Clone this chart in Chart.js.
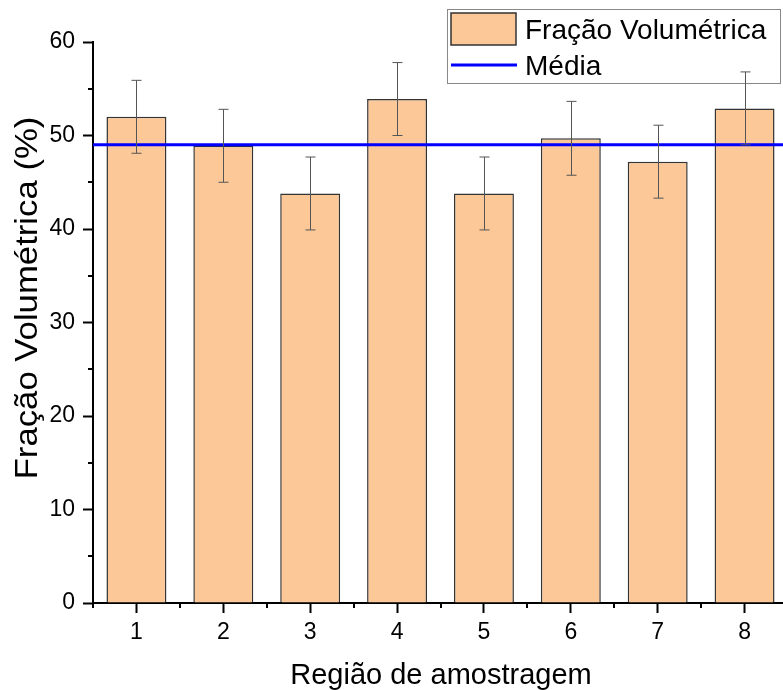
<!DOCTYPE html>
<html>
<head>
<meta charset="utf-8">
<script src="https://cdn.jsdelivr.net/npm/chart.js@4.4.1/dist/chart.umd.min.js"></script>
<style>
    html, body { margin: 0; padding: 0; overflow: hidden; background: #fff; }
    canvas { display: block; }
</style>
</head>
<body>
<canvas id="volChart" width="800" height="690"></canvas>
<script>
// dados
const regions = [1, 2, 3, 4, 5, 6, 7, 8];
const fraction = [52.0, 48.9, 43.8, 53.9, 43.8, 49.7, 47.2, 52.9];
const fractionErr = [3.9, 3.9, 3.9, 3.9, 3.9, 3.95, 3.9, 3.9];
const meanValue = 49.0;
const yTicks = [0, 10, 20, 30, 40, 50, 60];
const yMinorTicks = [5, 15, 25, 35, 45, 55];
const xMinorTicks = [0.5, 1.5, 2.5, 3.5, 4.5, 5.5, 6.5, 7.5, 8.5];
const xTitle = 'Região de amostragem';
const yTitle = 'Fração Volumétrica (%)';

const FONT = "'Liberation Sans', Arial, sans-serif";
const BAR_FILL = '#FCC897';

// barras de erro
const errorBars = {
    id: 'errorBars',
    afterDatasetsDraw(chart) {
        const { ctx, scales: { x, y } } = chart;
        ctx.save();
        ctx.strokeStyle = '#555';
        ctx.lineWidth = 1;
        regions.forEach((r, i) => {
            const px = Math.round(x.getPixelForValue(r)) + 0.5;
            const top = y.getPixelForValue(fraction[i] + fractionErr[i]);
            const bot = y.getPixelForValue(fraction[i] - fractionErr[i]);
            ctx.beginPath();
            ctx.moveTo(px, top); ctx.lineTo(px, bot);
            ctx.moveTo(px - 5, top); ctx.lineTo(px + 5, top);
            ctx.moveTo(px - 5, bot); ctx.lineTo(px + 5, bot);
            ctx.stroke();
        });
        ctx.restore();
    }
};

// ticks menores e títulos dos eixos
const axisExtras = {
    id: 'axisExtras',
    afterDraw(chart) {
        const { ctx, chartArea, scales: { x, y } } = chart;
        ctx.save();
        ctx.strokeStyle = '#000';
        ctx.lineWidth = 2;
        ctx.beginPath();
        yMinorTicks.forEach(v => {
            const py = Math.round(y.getPixelForValue(v));
            ctx.moveTo(chartArea.left, py); ctx.lineTo(chartArea.left - 5, py);
        });
        xMinorTicks.forEach(v => {
            const px = Math.round(x.getPixelForValue(v));
            ctx.moveTo(px, chartArea.bottom); ctx.lineTo(px, chartArea.bottom + 5);
        });
        ctx.stroke();

        ctx.fillStyle = '#000';
        ctx.textAlign = 'center';
        ctx.textBaseline = 'alphabetic';
        ctx.font = '29px ' + FONT;
        ctx.fillText(xTitle, 441, 684);

        // título vertical, um pouco esticado no sentido do texto
        ctx.save();
        ctx.translate(37, 298);
        ctx.rotate(-Math.PI / 2);
        ctx.scale(1.12, 1);
        ctx.font = '31px ' + FONT;
        ctx.fillText(yTitle, 0, 0);
        ctx.restore();
        ctx.restore();
    }
};

// legenda com moldura (desenhada por baixo dos dados)
const boxLegend = {
    id: 'boxLegend',
    beforeDatasetsDraw(chart) {
        const ctx = chart.ctx;
        ctx.save();
        ctx.strokeStyle = '#888';
        ctx.lineWidth = 1;
        ctx.strokeRect(447.5, 9.5, 333, 74);
        ctx.fillStyle = BAR_FILL;
        ctx.fillRect(451, 13, 65, 32);
        ctx.strokeStyle = '#333';
        ctx.lineWidth = 1.5;
        ctx.strokeRect(451, 13, 65, 32);
        ctx.strokeStyle = '#0000FF';
        ctx.lineWidth = 3;
        ctx.beginPath();
        ctx.moveTo(451, 65); ctx.lineTo(517, 65);
        ctx.stroke();
        ctx.fillStyle = '#000';
        ctx.font = '28px ' + FONT;
        ctx.textBaseline = 'alphabetic';
        ctx.fillText('Fração Volumétrica', 525, 39);
        ctx.fillText('Média', 525, 75);
        ctx.restore();
    }
};

new Chart(document.getElementById('volChart'), {
    type: 'bar',
    data: {
        datasets: [{
            type: 'line',
            label: 'Média',
            data: [{ x: 0.5, y: meanValue }, { x: 8.5, y: meanValue }],
            borderColor: '#0000FF',
            borderWidth: 3,
            pointRadius: 0,
            order: 0
        }, {
            label: 'Fração Volumétrica',
            data: regions.map((r, i) => ({ x: r, y: fraction[i] })),
            backgroundColor: BAR_FILL,
            borderColor: '#333',
            borderWidth: 1.5,
            barPercentage: 0.69,
            categoryPercentage: 1.0,
            order: 1
        }]
    },
    plugins: [errorBars, axisExtras, boxLegend],
    options: {
        responsive: false,
        devicePixelRatio: 1,
        animation: false,
        layout: { padding: { top: 42, right: 12, left: 0, bottom: 0 } },
        plugins: { legend: { display: false }, tooltip: { enabled: false } },
        scales: {
            x: {
                type: 'linear',
                offset: false,
                min: 0.5,
                max: 8.5,
                afterBuildTicks: s => { s.ticks = regions.map(v => ({ value: v })); },
                afterFit: s => { s.height = 87; },
                grid: { offset: false, drawOnChartArea: false, drawTicks: true, tickLength: 10, tickWidth: 2, tickColor: '#000' },
                border: { display: true, color: '#000', width: 2 },
                ticks: { color: '#000', padding: 6, font: { family: FONT, size: 23 } }
            },
            y: {
                min: 0,
                max: 60,
                afterBuildTicks: s => { s.ticks = yTicks.map(v => ({ value: v })); },
                afterFit: s => { s.width = 93; },
                grid: { drawOnChartArea: false, drawTicks: true, tickLength: 10, tickWidth: 2, tickColor: '#000' },
                border: { display: true, color: '#000', width: 2 },
                ticks: { color: '#000', padding: 8, font: { family: FONT, size: 23 } }
            }
        }
    }
});
</script>
</body>
</html>
